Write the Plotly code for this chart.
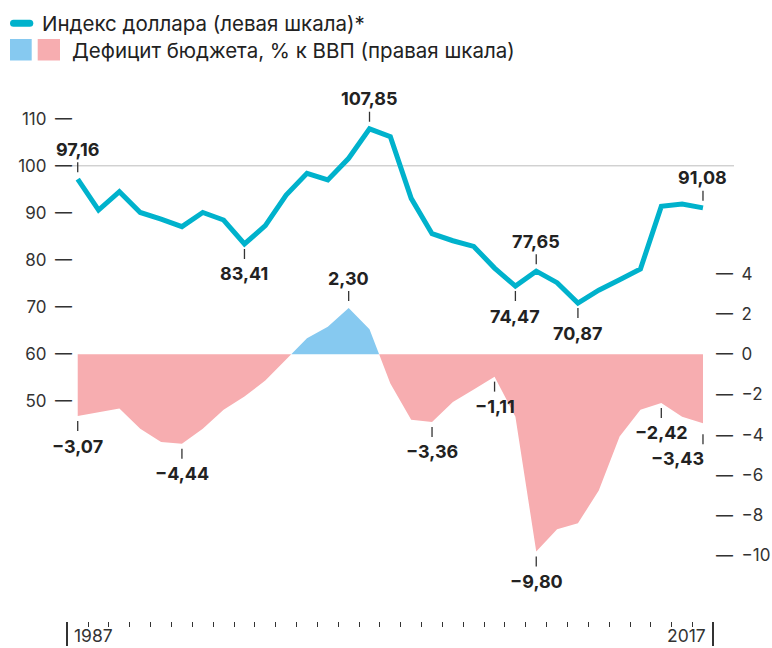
import plotly.graph_objects as go

# ---------------- data ----------------
years = list(range(1987, 2018))
dollar_index = [97.16, 90.6, 94.5, 90.1, 88.7, 87.1, 90.1, 88.5, 83.41, 87.3,
                93.8, 98.4, 97.0, 101.6, 107.85, 106.2, 93.1, 85.6, 84.1, 82.9,
                78.3, 74.47, 77.65, 75.2, 70.87, 73.6, 75.8, 78.1, 91.4, 91.9, 91.08]
budget_balance = [-3.07, -2.9, -2.7, -3.7, -4.36, -4.44, -3.7, -2.75, -2.1, -1.3,
                  -0.26, 0.8, 1.37, 2.30, 1.24, -1.45, -3.25, -3.36, -2.37, -1.75,
                  -1.11, -3.1, -9.80, -8.7, -8.4, -6.77, -4.08, -2.75, -2.42, -3.1, -3.43]
left_ticks = [50, 60, 70, 80, 90, 100, 110]
right_ticks = [-10, -8, -6, -4, -2, 0, 2, 4]
legend_line = "Индекс доллара (левая шкала)*"
legend_area = "Дефицит бюджета, % к ВВП (правая шкала)"
# labelled points: (year, position)
dollar_labels = [(1987, "above"), (1995, "below"), (2001, "above"), (2008, "below"),
                 (2009, "above"), (2011, "below"), (2017, "above")]
deficit_labels = [(1987, "below"), (1992, "below"), (2000, "above"), (2004, "below"),
                  (2007, "below"), (2009, "below"), (2015, "below"), (2017, "below_right")]

# ---------------- styles ----------------
W, H = 772, 648
FONT = "Inter"
CYAN = "#00B2CC"
PINK = "#F7ADB0"
BLUE = "#86C9F0"
DARK = "#222222"
TICKC = "#333333"


def px(x):
    return x / W


def py(y):
    return 1 - y / H


def fmt(v):
    s = f"{v:.2f}".replace(".", ",")
    return s.replace("-", "\u2212")


# split the deficit series into positive / negative parts (add zero crossings)
xs, ys = [], []
for i, (yr, v) in enumerate(zip(years, budget_balance)):
    xs.append(yr)
    ys.append(v)
    if i < len(years) - 1:
        nv = budget_balance[i + 1]
        if v * nv < 0:
            t = v / (v - nv)
            xs.append(yr + t)
            ys.append(0.0)
pos = [max(v, 0.0) for v in ys]
neg = [min(v, 0.0) for v in ys]

fig = go.Figure()
fig.add_trace(go.Scatter(x=xs, y=neg, yaxis="y2", mode="lines", fill="tozeroy",
                         fillcolor=PINK, line=dict(width=0, color=PINK),
                         hoverinfo="skip", showlegend=False))
fig.add_trace(go.Scatter(x=xs, y=pos, yaxis="y2", mode="lines", fill="tozeroy",
                         fillcolor=BLUE, line=dict(width=0, color=BLUE),
                         hoverinfo="skip", showlegend=False))
fig.add_trace(go.Scatter(x=years, y=dollar_index, yaxis="y", mode="lines",
                         line=dict(color=CYAN, width=5), showlegend=False))

# geometry (pixels)
x_left_px, x_right_px = 67.3, 713.4
y_top_px, y_bot_px = 90.0, 621.0
zero_px = 354.3
lscale = 4.712   # px per index unit
rscale = 20.12   # px per % unit
l_range = [60 - (y_bot_px - zero_px) / lscale, 60 + (zero_px - y_top_px) / lscale]
r_range = [-(y_bot_px - zero_px) / rscale, (zero_px - y_top_px) / rscale]

fig.update_layout(
    width=W, height=H,
    margin=dict(l=0, r=0, t=0, b=0),
    paper_bgcolor="white", plot_bgcolor="white",
    font=dict(family=FONT, color=TICKC, size=17),
    showlegend=False,
    xaxis=dict(domain=[px(x_left_px), px(x_right_px)], range=[1986.5, 2017.5],
               showgrid=False, zeroline=False, showline=False,
               tickvals=[1986.5, 2017.5], ticks="outside", ticklen=24, tickwidth=1.5,
               tickcolor=TICKC, showticklabels=False,
               minor=dict(ticks="outside", tick0=1987.5, dtick=1, ticklen=5,
                          tickwidth=1, tickcolor=TICKC)),
    yaxis=dict(domain=[py(y_bot_px), py(y_top_px)], range=l_range,
               anchor="free", position=px(72), side="left",
               showgrid=False, zeroline=False, showline=False, ticks="",
               tickvals=left_ticks,
               ticktext=[f"{t}\u2002\u2014" for t in left_ticks],
               tickfont=dict(size=17, color=TICKC, family=FONT)),
    yaxis2=dict(domain=[py(y_bot_px), py(y_top_px)], range=r_range,
                overlaying="y", anchor="free", position=px(715), side="right",
                showgrid=False, zeroline=False, showline=False, ticks="",
                tickvals=right_ticks,
                ticktext=[f"\u2014\u2002{str(t).replace('-', chr(0x2212))}" for t in right_ticks],
                tickfont=dict(size=17, color=TICKC, family=FONT)),
)

shapes = []
annotations = []

# gridline at 100
shapes.append(dict(type="line", xref="paper", yref="y", x0=px(70), x1=px(734),
                   y0=100, y1=100, line=dict(color="#BDBDBD", width=1), layer="below"))


def add_label(year, value, where, yref):
    if where == "above":
        t0, t1, shift, xa, xs_ = 7, 17, 30, "center", 0
    elif where == "below":
        t0, t1, shift, xa, xs_ = -5, -15, -30, "center", 0
    else:  # below_right
        t0, t1, shift, xa, xs_ = -11, -21, -35, "right", 3
    shapes.append(dict(type="line", xref="x", yref=yref, ysizemode="pixel",
                       yanchor=value, x0=year, x1=year, y0=t0, y1=t1,
                       line=dict(color=TICKC, width=1.3)))
    annotations.append(dict(x=year, y=value, xref="x", yref=yref, text=f"<b>{fmt(value)}</b>",
                            showarrow=False, xanchor=xa, yanchor="middle",
                            xshift=xs_, yshift=shift,
                            font=dict(family=FONT, size=18, color=DARK)))


for yr, where in dollar_labels:
    add_label(yr, dollar_index[years.index(yr)], where, "y")
for yr, where in deficit_labels:
    add_label(yr, budget_balance[years.index(yr)], where, "y2")

# x-axis end labels
annotations.append(dict(x=1986.5, y=0, xref="x", yref="paper", text=str(years[0]),
                        showarrow=False, xanchor="left", yanchor="bottom", xshift=5,
                        font=dict(family=FONT, size=17.5, color=TICKC)))
annotations.append(dict(x=2017.5, y=0, xref="x", yref="paper", text=str(years[-1]),
                        showarrow=False, xanchor="right", yanchor="bottom", xshift=-5,
                        font=dict(family=FONT, size=17.5, color=TICKC)))

# legend (manual)
r = 3.5
x0l, x1l, yc = 10.0, 33.3, 23.3
path = (f"M {px(x0l + r)} {py(yc - r)} L {px(x1l - r)} {py(yc - r)} "
        f"Q {px(x1l)} {py(yc - r)} {px(x1l)} {py(yc)} "
        f"Q {px(x1l)} {py(yc + r)} {px(x1l - r)} {py(yc + r)} "
        f"L {px(x0l + r)} {py(yc + r)} "
        f"Q {px(x0l)} {py(yc + r)} {px(x0l)} {py(yc)} "
        f"Q {px(x0l)} {py(yc - r)} {px(x0l + r)} {py(yc - r)} Z")
shapes.append(dict(type="path", xref="paper", yref="paper", path=path,
                   fillcolor=CYAN, line=dict(width=0)))
shapes.append(dict(type="rect", xref="paper", yref="paper", x0=px(10), x1=px(31.7),
                   y0=py(60.5), y1=py(39), fillcolor=BLUE, line=dict(width=0)))
shapes.append(dict(type="rect", xref="paper", yref="paper", x0=px(37.7), x1=px(60),
                   y0=py(60.5), y1=py(39), fillcolor=PINK, line=dict(width=0)))
annotations.append(dict(x=px(40), y=py(23.5), xref="paper", yref="paper", text=legend_line,
                        showarrow=False, xanchor="left", yanchor="middle",
                        font=dict(family=FONT, size=20.5, color=DARK)))
annotations.append(dict(x=px(70), y=py(50.5), xref="paper", yref="paper", text=legend_area,
                        showarrow=False, xanchor="left", yanchor="middle",
                        font=dict(family=FONT, size=20.5, color=DARK)))

fig.update_layout(shapes=shapes, annotations=annotations)
fig.write_html("out.html")
